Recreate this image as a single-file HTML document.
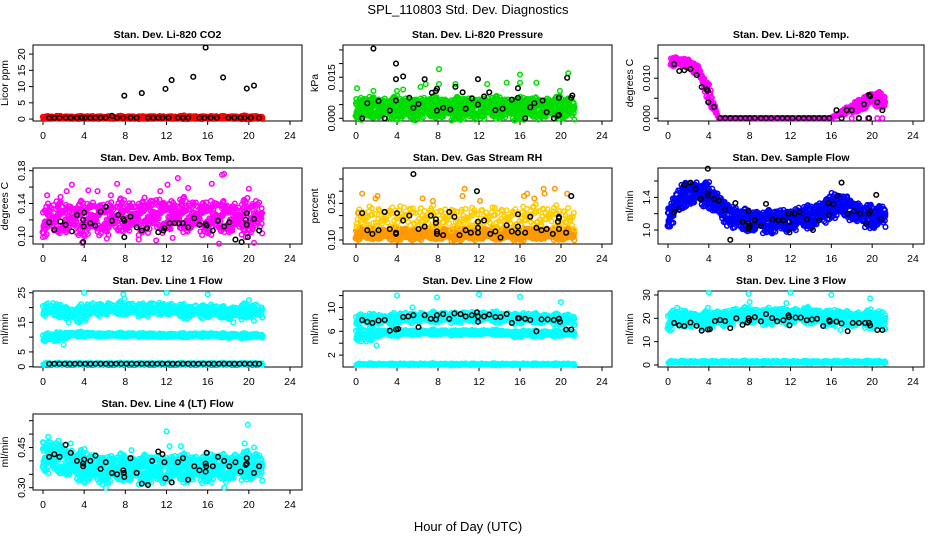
<!DOCTYPE html>
<html><head><meta charset="utf-8">
<style>
html,body{margin:0;padding:0;background:#fff;}
svg{display:block;font-family:"Liberation Sans",sans-serif;}
</style></head>
<body>
<svg id="chart" width="936" height="540" viewBox="0 0 936 540" xmlns="http://www.w3.org/2000/svg">
<rect width="936" height="540" fill="#fff"/>
<text x="468" y="14" text-anchor="middle" font-size="13">SPL_110803  Std. Dev. Diagnostics</text>
<text x="468" y="531" text-anchor="middle" font-size="13">Hour of Day (UTC)</text>
</svg>
<script>
// ---- data (hour-of-day knots 0..21) ----
const xTicks = [0,4,8,12,16,20,24];
const co2Center = [0.5,0.5,0.5,0.5,0.5,0.5,0.5,0.5,0.5,0.5,0.5,0.5,0.5,0.5,0.5,0.5,0.5,0.5,0.5,0.5,0.5,0.5];
const co2Half = [0.4,0.4,0.4,0.4,0.4,0.4,0.4,0.4,0.4,0.4,0.4,0.4,0.4,0.4,0.5,0.4,0.4,0.4,0.4,0.5,0.5,0.4];
const co2BlackH = [0.6,1.1,1.6,2.2,2.7,3.3,3.8,4.1,4.6,5.1,5.6,6.1,6.7,7.2,7.8,8.5,9.1,10.2,10.7,11.2,11.6,12.2,13.1,13.6,14.1,15.2,15.7,16.3,16.9,18.0,18.6,19.2,19.6,20.2,21.0,7.9,9.6,11.9,12.5,14.6,15.8,17.5,19.8,20.5];
const co2BlackV = [0.4,0.4,0.4,0.4,0.4,0.4,0.4,0.4,0.4,0.4,0.4,0.4,1.0,0.4,0.4,0.4,0.4,0.4,0.4,0.4,0.4,0.4,0.4,0.4,0.4,0.4,0.4,0.4,0.4,0.4,0.4,0.4,0.4,0.4,0.4,7.2,8,9.3,12,13,22,12.8,9.4,10.3];

const presCenter = [0.0037,0.0037,0.0037,0.0037,0.0037,0.0037,0.0037,0.0037,0.0037,0.0037,0.0037,0.0037,0.0037,0.0037,0.0037,0.0037,0.0037,0.0037,0.0037,0.0037,0.0037,0.0037];
const presHalf = [0.0035,0.0035,0.0035,0.0035,0.0035,0.0035,0.0035,0.0035,0.0035,0.0035,0.0035,0.0035,0.0035,0.0035,0.0035,0.0035,0.0035,0.0035,0.0035,0.0035,0.0035,0.0035];
const presOutH = [0.1,1.7,4,4.6,6.3,6.8,8.1,8.1,9.7,12.8,14.7,16,16,17.6,19.9,20.7];
const presOutV = [0.011,0.010,0.010,0.0105,0.0115,0.0125,0.018,0.0125,0.0125,0.0125,0.013,0.016,0.013,0.013,0.010,0.0165];
const presBlackH = [1.7,3.9,3.9,4.6,5.2,6.7,7.4,7.8,7.9,7.9,9.7,10.4,11.9,11.9,13,12.5,15.8,15.8,16.5,17,19.3,19.8,19.8,20.6,21.1,0.6,1.1,2.2,2.8,3.3,3.9,5.6,6.1,8.5,9.2,10.7,11.3,13.6,14.3,15.2,17.4,18.2,18.6,19.7,21];
const presBlackV = [0.0255,0.020,0.0143,0.0153,0.0075,0.0143,0.0093,0.0100,0.0108,0.0028,0.0115,0.0095,0.0143,0.0050,0.0095,0.008,0.0110,0.0075,0.000,0.004,0,0.0075,0.0012,0.0148,0.0083,0,0.0055,0.0063,0,0.0028,0.0065,0.0038,0.0052,0.0038,0.0032,0.0035,0.0072,0.0030,0.0035,0.0068,0.0055,0.0065,0.0022,0.0010,0.0075];

const ltCenter = [0.0145,0.0140,0.0135,0.0118,0.0060,0.000,0,0,0,0,0,0,0,0,0,0,0,0.0015,0.0022,0.0035,0.0050,0.0045];
const ltHalf = [0.0012,0.001,0.001,0.0015,0.002,0,0,0,0,0,0,0,0,0,0,0,0,0.0006,0.001,0.0015,0.0018,0.0015];
const ltZeroH = [5,6,7,8,9,10,11,12,13,14,15,16,17,18,18.7,19.6,20.5,21];
const ltBlackH = [0.6,1.1,1.6,2.2,2.8,3.3,3.8,3.9,3.95,4.5,16.5,17.5,18,19.2,19.7,19.8,20.5,21,5.1,5.6,6.1,6.6,7.1,7.6,8,8.5,9.1,9.6,10.1,10.7,11.2,11.7,12.2,12.8,13.3,13.8,14.3,14.8,15.3,15.8,17,18.7,19.7];
const ltBlackV = [0.0135,0.0118,0.0120,0.0123,0.0108,0.0078,0.0072,0.0068,0.0040,0.0028,0.0020,0.002,0.002,0.0035,0.0058,0.0055,0.0040,0.0020,0,0,0,0,0,0,0,0,0,0,0,0,0,0,0,0,0,0,0,0,0,0,0,0,0];

const ambCenter = [0.120,0.121,0.122,0.122,0.122,0.123,0.122,0.122,0.124,0.124,0.126,0.126,0.125,0.125,0.125,0.125,0.124,0.123,0.122,0.122,0.124,0.125];
const ambHalf = [0.018,0.018,0.018,0.018,0.018,0.018,0.018,0.018,0.018,0.018,0.018,0.018,0.018,0.018,0.018,0.018,0.018,0.018,0.018,0.018,0.018,0.018];
const ambOutH = [0,0.4,1.7,2.3,2.8,4.4,5.3,6.6,7.2,8.3,11.4,12.1,13.1,14.1,16.4,17.4,17.6,20,8.4,3.8,6.2,9.3,11,12.6,17.1,20.5,19.7];
const ambOutV = [0.099,0.150,0.148,0.155,0.163,0.156,0.155,0.150,0.164,0.155,0.155,0.163,0.171,0.159,0.164,0.175,0.176,0.158,0.192,0.092,0.097,0.096,0.095,0.098,0.091,0.092,0.099];
const ambBlackH = [0.6,1.1,1.7,2.2,2.8,3.3,3.9,3.9,3.95,4,4.6,5.1,5.6,6.1,6.7,7.3,7.8,7.9,7.9,8.5,9.1,9.6,10.1,11.2,11.7,11.8,12.3,12.8,13.2,13.6,14.1,14.7,15.2,15.8,15.9,16.5,17.0,17.6,18.1,18.7,19.3,19.7,19.8,19.8,19.9,20.5,21.0];
const ambBlackV = [0.117,0.108,0.118,0.114,0.106,0.126,0.120,0.093,0.112,0.129,0.116,0.113,0.130,0.136,0.119,0.126,0.121,0.119,0.099,0.124,0.111,0.107,0.110,0.105,0.107,0.110,0.116,0.116,0.116,0.116,0.111,0.122,0.114,0.115,0.113,0.107,0.119,0.112,0.117,0.096,0.093,0.120,0.128,0.114,0.099,0.121,0.107];

const rhLowCenter = [0.125,0.125,0.125,0.125,0.125,0.125,0.125,0.125,0.125,0.125,0.125,0.125,0.125,0.125,0.125,0.125,0.125,0.125,0.125,0.125,0.125,0.125];
const rhLowHalf = [0.022,0.022,0.022,0.022,0.022,0.022,0.022,0.022,0.022,0.022,0.022,0.022,0.022,0.022,0.022,0.022,0.022,0.022,0.022,0.022,0.022,0.022];
const rhHighCenter = [0.19,0.19,0.19,0.19,0.20,0.20,0.19,0.19,0.19,0.19,0.19,0.19,0.19,0.19,0.19,0.19,0.19,0.20,0.20,0.20,0.19,0.19];
const rhHighHalf = [0.04,0.04,0.04,0.04,0.04,0.04,0.04,0.04,0.04,0.04,0.04,0.04,0.04,0.04,0.04,0.04,0.04,0.04,0.04,0.04,0.04,0.04];
const rhOutH = [0.2,0.6,1.9,2.1,6.5,7.5,10.6,10.4,12.1,16.4,16.7,17.4,18.3,18.4,19.4,20.6];
const rhOutV = [0.21,0.29,0.27,0.28,0.27,0.26,0.31,0.28,0.26,0.28,0.29,0.27,0.31,0.29,0.31,0.29];
const rhBlackH = [0.6,1.1,1.6,2.2,2.8,3.3,3.9,3.9,4,4.6,5.2,5.6,6.1,6.7,7.3,7.8,7.8,7.9,7.9,8.5,9.1,9.6,10.1,10.7,11.2,11.8,11.9,11.9,11.9,12.5,13.1,13.6,14.1,14.7,15.2,15.8,15.8,15.8,16.5,17.0,17.6,18.1,18.6,19.2,19.7,19.8,19.8,19.8,20.5,21.0];
const rhBlackV = [0.21,0.14,0.125,0.14,0.215,0.145,0.13,0.125,0.21,0.18,0.20,0.37,0.145,0.155,0.20,0.185,0.17,0.135,0.125,0.12,0.215,0.195,0.12,0.14,0.13,0.30,0.175,0.15,0.13,0.18,0.125,0.135,0.11,0.16,0.135,0.155,0.205,0.13,0.13,0.195,0.15,0.14,0.145,0.125,0.175,0.145,0.19,0.195,0.13,0.28];

const sfCenter = [1.15,1.35,1.45,1.45,1.42,1.30,1.18,1.12,1.10,1.12,1.10,1.12,1.12,1.15,1.15,1.22,1.30,1.30,1.25,1.18,1.15,1.18];
const sfHalf = [0.12,0.14,0.14,0.13,0.13,0.13,0.12,0.12,0.12,0.12,0.12,0.12,0.12,0.12,0.12,0.13,0.13,0.12,0.12,0.12,0.12,0.12];
const sfBlackH = [0.6,1.1,1.6,2.2,2.7,3.2,3.9,3.9,3.9,4.5,5.0,5.6,6.1,6.6,7.3,7.9,7.9,8.0,7.9,8.5,9.1,9.6,10.2,10.8,11.3,11.8,11.9,11.9,12.4,12.9,13.6,14.2,14.8,15.7,15.8,16.2,16.6,17.0,17.6,18.2,18.8,19.4,19.7,19.8,20.4,20.9];
const sfBlackV = [1.22,1.25,1.55,1.58,1.50,1.38,1.42,1.45,1.75,1.38,1.36,1.25,0.88,1.33,1.10,1.08,1.02,1.05,1.23,1.12,1.05,1.32,1.13,1.12,1.12,1.20,1.10,0.97,1.20,1.22,1.13,1.00,1.12,1.33,1.18,1.32,1.42,1.58,1.20,1.23,1.20,1.08,1.20,1.23,1.43,1.13];

const l1HiCenter = [19.5,19,18.5,17.5,18.5,19.5,19.5,19.5,19.5,19.5,19.5,19.5,19.5,19,18.5,19,19,18.5,18,18.5,19,19];
const l1HiHalf = [2,2,2,2.5,2.5,2,2,2,2,2,2,2,2,2,2,2,2,2,2,2.5,2,2];
const l1MidCenter = [10,9.8,10.5,11,11,10.8,10.8,10.8,10.8,10.8,10.8,10.6,10.6,10.6,10.6,10.8,10.8,10.6,10.5,10.5,10.5,10.5];
const l1MidHalf = [1.2,1.5,1,0.8,0.7,0.6,0.6,0.6,0.6,0.6,0.6,0.6,0.6,0.6,0.6,0.6,0.6,0.6,0.8,0.8,0.6,0.6];
const l1LowCenter = [1,1,1,1,1,1,1,1,1,1,1,1,1,1,1,1,1,1,1,1,1,1];
const l1LowHalf = [0.3,0.3,0.3,0.3,0.3,0.3,0.3,0.3,0.3,0.3,0.3,0.3,0.3,0.3,0.3,0.3,0.3,0.3,0.3,0.3,0.3,0.3];
const l1OutH = [4,7.8,7.9,12,16,0.3,1,2.5,3.5,18.5,20.5,2,20];
const l1OutV = [25,24.5,23,25,24.5,20,21.5,15,15,15,15.5,7.5,22.5];
const l1BlackH = [0.6,1.1,1.6,2.1,2.6,3.1,3.6,4.1,4.6,5.1,5.6,6.1,6.6,7.1,7.6,8.1,8.6,9.1,9.6,10.1,10.6,11.1,11.6,12.1,12.6,13.1,13.6,14.1,14.6,15.1,15.6,16.1,16.6,17.1,17.6,18.1,18.6,19.1,19.6,20.1,20.6,21.0];
const l1BlackV = [1,1,1,1,1,1,1,1,1,1,1,1,1,1,1,1,1,1,1,1,1,1,1,1,1,1,1,1,1,1,1,1,1,1,1,1,1,1,1,1,1,1];

const l2HiCenter = [8,8,8,8,8.2,8.3,8.3,8.3,8.3,8.4,8.4,8.4,8.4,8.4,8.3,8.3,8.2,8.2,8.1,8.1,8,8];
const l2HiHalf = [0.8,0.8,0.8,0.8,0.8,0.8,0.8,0.8,0.8,0.8,0.8,0.8,0.8,0.8,0.8,0.8,0.8,0.8,0.8,0.8,0.8,0.8];
const l2MidCenter = [5.6,5.4,5.6,5.8,5.8,5.8,5.8,5.8,5.8,5.8,5.8,5.8,5.8,5.8,5.8,5.6,5.6,5.6,5.6,5.6,5.7,5.7];
const l2MidHalf = [1.0,1.0,0.6,0.5,0.5,0.4,0.4,0.4,0.4,0.4,0.4,0.4,0.4,0.4,0.4,0.4,0.5,0.5,0.5,0.5,0.4,0.4];
const l2LowCenter = [0.45,0.45,0.45,0.45,0.45,0.45,0.45,0.45,0.45,0.45,0.45,0.45,0.45,0.45,0.45,0.45,0.45,0.45,0.45,0.45,0.45,0.45];
const l2LowHalf = [0.15,0.15,0.15,0.15,0.15,0.15,0.15,0.15,0.15,0.15,0.15,0.15,0.15,0.15,0.15,0.15,0.15,0.15,0.15,0.15,0.15,0.15];
const l2OutH = [4,7.9,12,16,20,5.5,1.7,2,0.5,1,1.5];
const l2OutV = [12,11.7,12.2,11.8,10.9,10,8.9,3.6,4.3,4.3,4.5];
const l2BlackH = [0.6,1.1,1.6,2.2,2.8,3.3,3.9,4.1,4.6,5.1,5.6,6.1,6.7,7.3,7.8,7.9,8.5,9.1,9.6,10.2,10.7,11.3,11.8,11.9,11.9,12.5,13.0,13.6,14.1,14.7,15.2,15.8,15.9,16.5,17.0,17.6,18.1,18.7,19.3,19.8,19.9,20.5,21.0];
const l2BlackV = [7.9,7.6,7.4,7.8,7.9,6.1,6.3,6.4,8.4,8.5,8.7,6.7,8.7,8.1,8.0,8.7,8.9,8.1,9.0,8.9,8.5,8.7,9.2,8.5,7.6,8.5,8.8,8.4,8.4,8.9,7.4,8.2,8.2,8.1,7.9,6.0,8.0,8.0,7.9,8.1,7.6,6.3,6.3];

const l3HiCenter = [19,19.5,19.5,19,19.5,20,20.5,21,21,21,21,21,21,21,21,20.5,20.5,20,19.5,19.5,19.5,19.5];
const l3HiHalf = [4,3.5,3,3.5,3,3,3,3,3,3,3,3,3,3,3,3,3,3,3,3,3.5,3.5];
const l3LowCenter = [1.3,1.3,1.3,1.3,1.3,1.3,1.3,1.3,1.3,1.3,1.3,1.3,1.3,1.3,1.3,1.3,1.3,1.3,1.3,1.3,1.3,1.3];
const l3LowHalf = [0.5,0.5,0.5,0.5,0.5,0.5,0.5,0.5,0.5,0.5,0.5,0.5,0.5,0.5,0.5,0.5,0.5,0.5,0.5,0.5,0.5,0.5];
const l3OutH = [4,7.9,8,12,16,19.8,0.9,3.9,11.6,16.9,21.2];
const l3OutV = [31,30.5,27,31,30,28.5,24.5,24.5,26.5,15,15.5];
const l3BlackH = [0.6,1.1,1.6,2.2,2.8,3.3,3.9,4.1,4.6,5.1,5.6,6.1,6.7,7.3,7.8,7.9,7.95,8.5,9.1,9.6,10.2,10.7,11.3,11.8,11.85,11.9,12.5,13.0,13.6,14.1,14.6,15.2,15.8,15.85,16.5,17.0,17.6,18.1,18.7,19.3,19.7,19.8,20.5,21];
const l3BlackV = [18,17,16.7,18.2,16.8,14.7,15.2,15.3,18.8,19.3,18.8,15.8,20,17.2,18.2,20,19,20.5,18.7,21.8,20.1,18.7,19.2,21.3,20.5,17,20.3,20.3,19.2,19.5,19.8,16.7,19.2,18.6,18.6,17.8,14.5,18,18,18,18,17,15,15];

const l4Center = [0.42,0.41,0.40,0.385,0.38,0.375,0.37,0.37,0.37,0.37,0.37,0.37,0.37,0.37,0.37,0.375,0.375,0.375,0.375,0.38,0.38,0.38];
const l4Half = [0.05,0.05,0.05,0.05,0.05,0.045,0.045,0.045,0.045,0.045,0.045,0.045,0.045,0.045,0.045,0.045,0.045,0.045,0.045,0.045,0.045,0.045];
const l4OutH = [0,0.5,1.5,12,19.9,19.6,20.5,6.1,17.6,0.7,1.2,2.7,8.6,12.3,13.4];
const l4OutV = [0.47,0.49,0.475,0.51,0.535,0.465,0.45,0.30,0.30,0.47,0.465,0.465,0.44,0.455,0.455];
const l4BlackH = [0.6,1.1,1.6,2.2,2.7,3.3,3.9,3.9,4,4.6,5.1,5.6,6.1,6.7,7.2,7.8,7.85,7.9,8.5,9.1,9.6,10.2,10.6,11.2,11.6,11.8,11.9,12.5,13.1,13.6,14.1,14.7,15.2,15.8,15.85,15.9,15.8,16.5,17.0,17.6,18.1,18.7,19.2,19.7,19.8,19.8,20.5,21.0];
const l4BlackV = [0.415,0.425,0.415,0.46,0.43,0.40,0.39,0.38,0.405,0.40,0.42,0.37,0.395,0.355,0.35,0.365,0.355,0.34,0.41,0.355,0.315,0.31,0.40,0.435,0.425,0.395,0.335,0.32,0.395,0.41,0.33,0.38,0.365,0.39,0.38,0.43,0.36,0.38,0.415,0.40,0.38,0.395,0.36,0.385,0.39,0.41,0.355,0.38];

// ---- rendering ----
const NS = "http://www.w3.org/2000/svg";
const svg = document.getElementById('chart');
const COLS = [{bl:33,br:302,x0:43,x24:290},{bl:343,br:612,x0:356,x24:602},{bl:658,br:924,x0:668,x24:913}];
const ROWS = [{bt:45,bb:121},{bt:168,bb:244},{bt:291,bb:367},{bt:414,bb:490}];
const OFF = [-0.9,0.3,-0.2,0.8,-0.5,0.6,0,-0.7,0.95,0.1,-0.3,0.5,-0.95,0.75,-0.1,0.42,-0.62,0.22,-0.38,0.88,-0.05,0.67,-0.82,0.15,-0.45];
const SPREAD = [1,0.85,1.25,0.9,1.1,0.75,1.35,0.95,1.05,0.8,1.2];

function mk(tag, attrs, parent){
  const e = document.createElementNS(NS, tag);
  for (const k in attrs) e.setAttribute(k, attrs[k]);
  (parent||svg).appendChild(e);
  return e;
}
function interp(arr, t){
  const i = Math.max(0, Math.min(arr.length-2, Math.floor(t)));
  const f = Math.min(1, Math.max(0, t - i));
  return arr[i]*(1-f) + arr[i+1]*f;
}

function panel(name, col, row, title, ylabel, ylim, ticks, labels){
  const C = COLS[col], R = ROWS[row];
  const g = mk('g', {});
  
  
  const xs = h => C.x0 + (C.x24 - C.x0) * h / 24;
  const ys = v => R.bb - (v - ylim[0]) / (ylim[1] - ylim[0]) * (R.bb - R.bt);
  const box = mk('rect', {x:C.bl, y:R.bt, width:C.br-C.bl, height:R.bb-R.bt, fill:'none', stroke:'#000', 'stroke-width':1}, g);
  
  
  const t = mk('text', {x:(C.bl+C.br)/2, y:R.bt-7, 'text-anchor':'middle', 'font-size':10.5, 'font-weight':'bold'}, g);
  t.textContent = title;
  
  
  const yl = mk('text', {transform:`translate(${C.bl-25},${(R.bt+R.bb)/2}) rotate(-90)`, 'text-anchor':'middle', 'font-size':10.5}, g);
  yl.textContent = ylabel;
  
  
  xTicks.forEach(h => {
    const x = xs(h);
    mk('line', {x1:x, x2:x, y1:R.bb, y2:R.bb+4, stroke:'#000'}, g);
    const tl = mk('text', {x:x, y:R.bb+18, 'text-anchor':'middle', 'font-size':10.5}, g);
    tl.textContent = h;
    
    
  });
  ticks.forEach((v, i) => {
    const y = ys(v);
    mk('line', {x1:C.bl-4, x2:C.bl, y1:y, y2:y, stroke:'#000'}, g);
    if (labels[i]) {
      const tl = mk('text', {transform:`translate(${C.bl-8},${y}) rotate(-90)`, 'text-anchor':'middle', 'font-size':10.5}, g);
      tl.textContent = labels[i];
      
      
    }
  });
  const pts = mk('g', {}, g);
  
  
  function pt(h, v, color){
    const y = ys(v);
    if (y < R.bt - 1 || y > R.bb + 1) return;
    const c = mk('circle', {cx:xs(h), cy:y, r:2.3, fill:'none', stroke:color, 'stroke-width':1.5}, pts);
    
    
  }
  return {
    cloud(center, half, color, t0, t1, per){
      let i = 0;
      for (let h = t0; h <= t1 + 1e-9; h += 0.08, i++) {
        const c = interp(center, h), hw = interp(half, h) * SPREAD[i % SPREAD.length];
        for (let k = 0; k < per; k++) {
          const j = (i*7 + k*11) % OFF.length;
          pt(h + 0.05*OFF[(j+3) % OFF.length], c + hw * OFF[j], color);
        }
      }
    },
    scatter(H, V, color){ H.forEach((h, i) => pt(h, V[i], color)); }
  };
}

// Panel 1
let p = panel('li820-co2', 0, 0, 'Stan. Dev. Li-820 CO2', 'Licor ppm', [-0.6, 22.8], [0,5,10,15,20], ['0','5','10','15','20']);
p.cloud(co2Center, co2Half, '#ff0000', 0, 21.3, 2);
p.scatter(co2BlackH, co2BlackV, '#000');
// Panel 2
p = panel('li820-pressure', 1, 0, 'Stan. Dev. Li-820 Pressure', 'kPa', [-0.001, 0.0268], [0,0.005,0.010,0.015,0.020,0.025], ['0.000','','','0.015','','']);
p.cloud(presCenter, presHalf, '#00dd00', 0, 21.3, 4);
p.scatter(presOutH, presOutV, '#00dd00');
p.scatter(presBlackH, presBlackV, '#000');
// Panel 3
p = panel('li820-temp', 2, 0, 'Stan. Dev. Li-820 Temp.', 'degrees C', [-0.0007, 0.0183], [0,0.005,0.010,0.015], ['0.000','','0.010','']);
p.cloud(ltCenter, ltHalf, '#ff00ff', 0.3, 4.7, 3);
p.cloud(ltCenter, ltHalf, '#ff00ff', 17, 21.3, 3);
p.scatter(ltZeroH, ltZeroH.map(() => 0), '#ff00ff');
p.cloud(ltCenter, ltHalf, '#ff00ff', 4.8, 16.8, 1);
p.scatter(ltBlackH, ltBlackV, '#000');
// Panel 4
p = panel('amb-box-temp', 0, 1, 'Stan. Dev. Amb. Box Temp.', 'degrees C', [0.0906, 0.1833], [0.10,0.12,0.14,0.16,0.18], ['0.10','','0.14','','0.18']);
p.cloud(ambCenter, ambHalf, '#ff00ff', 0, 21.3, 3);
p.scatter(ambOutH, ambOutV, '#ff00ff');
p.scatter(ambBlackH, ambBlackV, '#000');
// Panel 5
p = panel('gas-stream-rh', 1, 1, 'Stan. Dev. Gas Stream RH', 'percent', [0.0836, 0.395], [0.10,0.15,0.20,0.25,0.30,0.35], ['0.10','','','0.25','','']);
p.cloud(rhLowCenter, rhLowHalf, '#ff9900', 0, 21.3, 3);
p.cloud(rhHighCenter, rhHighHalf, '#ffcc00', 0, 21.3, 1);
p.scatter(rhOutH, rhOutV, '#ff9900');
p.scatter(rhBlackH, rhBlackV, '#000');
// Panel 6
p = panel('sample-flow', 2, 1, 'Stan. Dev. Sample Flow', 'ml/min', [0.829, 1.759], [1.0,1.2,1.4,1.6], ['1.0','','1.4','']);
p.cloud(sfCenter, sfHalf, '#0000ff', 0, 21.3, 4);
p.scatter(sfBlackH, sfBlackV, '#000');
// Panel 7
p = panel('line1-flow', 0, 2, 'Stan. Dev. Line 1 Flow', 'ml/min', [-0.1, 25.6], [0,5,10,15,20,25], ['0','5','','15','','25']);
p.cloud(l1HiCenter, l1HiHalf, '#00ffff', 0, 21.3, 2);
p.cloud(l1MidCenter, l1MidHalf, '#00ffff', 0, 21.3, 2);
p.cloud(l1LowCenter, l1LowHalf, '#00ffff', 0, 21.3, 1);
p.scatter(l1OutH, l1OutV, '#00ffff');
p.scatter(l1BlackH, l1BlackV, '#000');
// Panel 8
p = panel('line2-flow', 1, 2, 'Stan. Dev. Line 2 Flow', 'ml/min', [0, 12.77], [2,4,6,8,10,12], ['2','','6','','10','']);
p.cloud(l2HiCenter, l2HiHalf, '#00ffff', 0, 21.3, 2);
p.cloud(l2MidCenter, l2MidHalf, '#00ffff', 0, 21.3, 2);
p.cloud(l2LowCenter, l2LowHalf, '#00ffff', 0, 21.3, 1);
p.scatter(l2OutH, l2OutV, '#00ffff');
p.scatter(l2BlackH, l2BlackV, '#000');
// Panel 9
p = panel('line3-flow', 2, 2, 'Stan. Dev. Line 3 Flow', 'ml/min', [-0.86, 31.7], [0,10,20,30], ['0','10','20','30']);
p.cloud(l3HiCenter, l3HiHalf, '#00ffff', 0, 21.3, 3);
p.cloud(l3LowCenter, l3LowHalf, '#00ffff', 0, 21.3, 1);
p.scatter(l3OutH, l3OutV, '#00ffff');
p.scatter(l3BlackH, l3BlackV, '#000');
// Panel 10
p = panel('line4-lt-flow', 0, 3, 'Stan. Dev. Line 4 (LT) Flow', 'ml/min', [0.2914, 0.575], [0.30,0.35,0.40,0.45,0.50,0.55], ['0.30','','','0.45','','']);
p.cloud(l4Center, l4Half, '#00ffff', 0, 21.3, 4);
p.scatter(l4OutH, l4OutV, '#00ffff');
p.scatter(l4BlackH, l4BlackV, '#000');
</script>
</body></html>
